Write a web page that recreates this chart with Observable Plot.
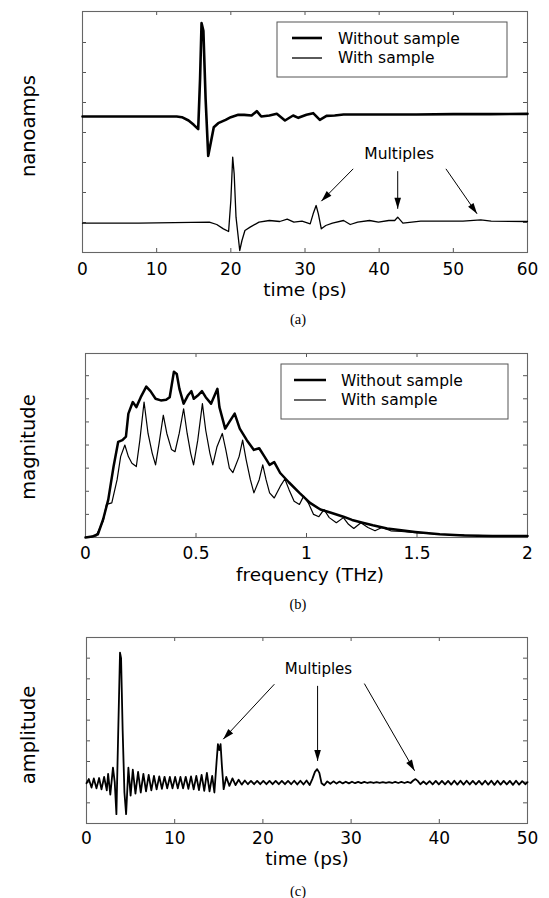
<!DOCTYPE html>
<html><head><meta charset="utf-8">
<script src="https://cdn.jsdelivr.net/npm/d3@7"></script>
<script src="https://cdn.jsdelivr.net/npm/@observablehq/plot@0.6"></script>
<style>
html,body{margin:0;padding:0;background:#fff;}
#page{position:relative;width:549px;height:898px;overflow:hidden;background:#fff;}
.panel{position:absolute;left:0;}
#overlay{position:absolute;left:0;top:0;pointer-events:none;}
</style></head><body><div id="page"></div>
<script>
// ---------------- DATA ----------------
// Panel (a): time-domain pulses (time in ps, arbitrary current units)
const aTimeTicks = [0, 10, 20, 30, 40, 50, 60];
const aLevelTicks = [9, 18, 27, 36, 45, 54, 63];
const aWithout = [[0,40.8],[5,40.8],[10,40.8],[12.7,40.8],[13.4,40.6],[14.3,39.6],[15.0,38.3],[15.6,37.0],[15.85,52],[16.05,68.8],[16.3,66.5],[16.6,46],[16.95,29.0],[17.3,33],[17.7,37.6],[18.3,38.8],[19.3,39.8],[20.0,40.6],[21.0,41.3],[21.8,41.3],[22.8,41.1],[23.5,42.4],[24.1,40.8],[25.2,41.1],[26.2,41.6],[27.3,39.6],[28.4,41.1],[29.1,40.4],[30.2,41.3],[31.1,41.8],[32.0,39.8],[32.9,41.0],[34.0,41.1],[35.2,41.4],[40,41.4],[45,41.4],[50,41.5],[55,41.5],[60,41.6]];
const aWith = [[0,8.8],[7.6,8.8],[17.1,9.1],[18.1,8.4],[19.0,7.1],[19.7,6.3],[20.0,15.6],[20.25,28.6],[20.45,23.6],[20.7,10.6],[21.2,0.6],[21.5,3.6],[21.9,6.6],[22.6,7.6],[23.8,9.1],[25.2,9.6],[26.6,9.3],[27.6,10.0],[28.5,9.1],[29.6,9.4],[30.7,8.6],[31.1,11.6],[31.5,14.1],[31.8,11.6],[32.2,7.1],[32.8,8.1],[33.7,8.8],[35.2,9.6],[36.1,8.4],[37.1,9.1],[38.7,9.6],[39.9,9.1],[41.3,9.6],[42.1,9.6],[42.5,10.6],[43.2,8.8],[45.6,9.4],[48.5,9.4],[51.3,9.4],[53.7,9.8],[55.1,9.4],[60,9.3]];
const aNote = {t: 42.7, v: 29.6, label: "Multiples"};
const aArrows = [{x1:36.5,y1:25.1,x2:32.2,y2:15.4},{x1:42.5,y1:24.4,x2:42.5,y2:13.1},{x1:49.0,y1:25.1,x2:53.2,y2:11.6}];

// Panel (b): spectra (frequency in THz, arbitrary magnitude)
const bFreqTicks = [0, 0.5, 1, 1.5, 2];
const bLevelTicks = [10, 20, 30, 40, 50, 60, 70];
const bWithout = [[0,0],[0.03,0.4],[0.056,1.4],[0.08,7.9],[0.103,16.4],[0.127,30.7],[0.148,41.4],[0.167,42.1],[0.183,43.6],[0.194,53.6],[0.214,58.6],[0.23,56.4],[0.25,60.7],[0.275,65.3],[0.294,63.3],[0.317,60.0],[0.341,59.3],[0.365,59.6],[0.381,60.7],[0.4,71.7],[0.413,70.7],[0.425,64.3],[0.444,57.9],[0.463,61.4],[0.479,63.3],[0.49,60.0],[0.508,61.4],[0.527,63.3],[0.544,60.7],[0.568,57.9],[0.597,64.3],[0.606,56.4],[0.632,47.1],[0.651,50.0],[0.675,53.6],[0.698,47.1],[0.73,42.1],[0.762,37.9],[0.786,38.6],[0.81,35.0],[0.833,31.4],[0.854,32.6],[0.881,27.9],[0.92,23.9],[0.968,19.3],[1.016,15.0],[1.063,12.1],[1.111,10.7],[1.167,9.0],[1.206,7.6],[1.254,6.4],[1.3,5.3],[1.365,3.9],[1.429,3.1],[1.492,2.4],[1.603,1.4],[1.714,0.9],[1.841,0.6],[2.0,0.7]];
const bWith = [[0,0],[0.048,0.7],[0.08,7.1],[0.095,14.3],[0.119,15.0],[0.143,25.0],[0.159,35.0],[0.178,40.0],[0.194,35.0],[0.21,32.1],[0.23,30.7],[0.246,42.1],[0.265,58.6],[0.283,45.0],[0.302,36.4],[0.317,31.4],[0.333,40.7],[0.352,52.9],[0.368,45.0],[0.389,38.1],[0.405,37.1],[0.424,45.0],[0.444,55.7],[0.46,45.0],[0.476,36.4],[0.489,31.4],[0.508,42.1],[0.529,57.9],[0.544,46.4],[0.563,36.4],[0.576,31.4],[0.595,39.3],[0.619,45.0],[0.635,37.9],[0.651,30.0],[0.667,28.1],[0.695,35.0],[0.711,42.1],[0.727,33.6],[0.746,25.0],[0.762,19.3],[0.786,25.0],[0.802,31.4],[0.817,25.0],[0.833,19.3],[0.854,17.1],[0.881,22.1],[0.902,25.3],[0.921,20.7],[0.944,15.7],[0.968,14.3],[0.987,17.9],[1.008,15.0],[1.032,10.0],[1.056,9.0],[1.079,12.1],[1.103,8.6],[1.135,6.4],[1.167,8.6],[1.19,5.7],[1.214,3.9],[1.246,6.4],[1.278,4.3],[1.31,2.9],[1.341,4.3],[1.381,2.9],[1.429,2.6],[1.49,2.1],[1.6,1.4],[1.71,1.0],[1.84,0.7],[2.0,0.7]];

// Panel (c): deconvolved response (time in ps, arbitrary amplitude)
const cTimeTicks = [0, 10, 20, 30, 40, 50];
const cLevelTicks = [10, 20, 30, 40, 50, 60, 70, 80];
const cAmp = [[0,19.5],[0.26,21.5],[0.57,17.4],[0.83,21.8],[1.13,17.0],[1.43,22],[1.7,16.5],[2.0,22.5],[2.3,16],[2.45,24],[2.7,14],[3.0,27],[3.2,20],[3.39,4.5],[3.6,45],[3.8,82.7],[3.92,80],[4.1,45],[4.3,15],[4.49,4.5],[4.75,27],[5.0,13.5],[5.25,26],[5.55,14.5],[5.85,25],[6.15,15],[6.45,24],[6.75,15.5],[7.05,23.5],[7.35,16],[7.65,23],[7.95,16.5],[8.25,22.8],[8.55,16.8],[8.85,22.6],[9.15,17],[9.45,22.5],[9.75,17],[10.05,22.5],[10.35,17],[10.65,22.5],[10.95,17],[11.25,22.6],[11.55,16.8],[11.85,22.8],[12.15,16.5],[12.45,23],[12.75,16.2],[13.05,23.5],[13.35,15.8],[13.65,24.5],[13.95,15.5],[14.25,23],[14.5,15],[14.75,30],[14.9,38.4],[15.05,35.5],[15.2,38.4],[15.35,28],[15.55,16.6],[15.85,22.5],[16.2,18.2],[16.55,21.8],[16.9,18.6],[17.25,21.2],[17.6,18.8],[17.95,20.8],[18.3,19.0],[18.65,20.6],[19.0,19.0],[19.35,20.6],[19.7,19.0],[20.05,20.6],[20.4,19.0],[20.75,20.6],[21.1,19.0],[21.45,20.6],[21.8,19.0],[22.15,20.6],[22.5,19.0],[22.85,20.6],[23.2,19.0],[23.55,20.7],[23.9,18.9],[24.25,20.7],[24.6,18.9],[24.95,20.8],[25.3,18.6],[25.6,21.5],[25.9,25],[26.15,26.3],[26.4,24.5],[26.65,19.5],[26.95,18.5],[27.3,20.4],[27.65,19.2],[28.0,20.4],[28.35,19.3],[28.7,20.3],[29.05,19.4],[29.4,20.2],[29.75,19.4],[30.1,20.2],[30.45,19.5],[30.8,20.1],[31.15,19.5],[31.5,20.1],[31.85,19.6],[32.2,20.0],[32.55,19.6],[32.9,20.0],[33.25,19.7],[33.6,20.0],[33.95,19.7],[34.3,20.0],[34.65,19.6],[35.0,20.1],[35.35,19.6],[35.7,20.1],[36.05,19.6],[36.4,20.1],[36.75,19.6],[37.05,20.8],[37.3,21.5],[37.55,20.6],[37.85,19.0],[38.2,20.3],[38.55,19.0],[38.9,20.5],[39.25,18.9],[39.6,20.6],[39.95,18.9],[40.3,20.6],[40.65,18.9],[41.0,20.6],[41.35,18.8],[41.7,20.7],[42.05,18.8],[42.4,20.7],[42.75,18.8],[43.1,20.7],[43.45,18.9],[43.8,20.6],[44.15,18.9],[44.5,20.6],[44.85,18.8],[45.2,20.7],[45.55,18.8],[45.9,20.7],[46.25,18.7],[46.6,20.7],[46.95,18.8],[47.3,20.6],[47.65,18.9],[48.0,20.6],[48.35,18.7],[48.7,20.7],[49.05,18.8],[49.4,20.5],[49.75,19.0],[50,20]];
const cNote = {t: 26.3, v: 74.7, label: "Multiples"};
const cArrows = [{x1:21.3,y1:67.4,x2:15.5,y2:40.8},{x1:26.2,y1:66.6,x2:26.2,y2:30.3},{x1:31.5,y1:67.7,x2:37.2,y2:25.5}];

// Text
const legendLabels = ["Without sample", "With sample"];
const yTitles = ["nanoamps", "magnitude", "amplitude"];
const xTitles = ["time (ps)", "frequency (THz)", "time (ps)"];
const captions = ["(a)", "(b)", "(c)"];

// ---------------- LAYOUT ----------------
const W = 549, H = 898;
const FONT = "'DejaVu Sans', 'Liberation Sans', Arial, sans-serif";
const page = document.getElementById("page");

const arrowHead = {
  draw(ctx) { const L = 11, w = 3.3; ctx.moveTo(0, 0); ctx.lineTo(-w, L); ctx.lineTo(w, L); ctx.closePath(); }
};

function makePanel(cfg) {
  const {top, svgH, fl, fr, ft, fb, xDom, yDom, xTicks, yTicks, lines, note, arrows, pad, noteSize} = cfg;
  const fw = fr - fl, fh = fb - ft;
  const kx = fw / (xDom[1] - xDom[0]), ky = fh / (yDom[1] - yDom[0]);
  const tl = 4, dyT = tl / ky, dxT = tl / kx;
  const innerX = xTicks.filter(v => v > xDom[0] && v < xDom[1]);
  const marks = [
    Plot.ruleX(innerX, {x: d => d, y1: yDom[0], y2: yDom[0] + dyT, stroke: "#555", strokeWidth: 1}),
    Plot.ruleX(innerX, {x: d => d, y1: yDom[1], y2: yDom[1] - dyT, stroke: "#555", strokeWidth: 1}),
    Plot.ruleY(yTicks, {y: d => d, x1: xDom[0], x2: xDom[0] + dxT, stroke: "#555", strokeWidth: 1}),
    Plot.ruleY(yTicks, {y: d => d, x1: xDom[1], x2: xDom[1] - dxT, stroke: "#555", strokeWidth: 1}),
    Plot.frame({stroke: "#666", strokeWidth: 1.1}),
    ...lines.map(s => Plot.line(s.data, {x: d => d[0], y: d => d[1], stroke: "#000", strokeWidth: s.w, strokeLinejoin: "round"}))
  ];
  if (note) marks.push(Plot.text([note], {x: "t", y: "v", text: "label", fontSize: noteSize, fill: "#000"}));
  if (arrows) {
    marks.push(Plot.link(arrows, {x1: "x1", y1: "y1", x2: "x2", y2: "y2", stroke: "#000", strokeWidth: 1}));
    marks.push(Plot.dot(arrows, {x: "x2", y: "y2", symbol: arrowHead, r: 5,
      rotate: d => Math.atan2((d.x2 - d.x1) * kx, (d.y2 - d.y1) * ky) * 180 / Math.PI,
      fill: "#000", stroke: "none"}));
  }
  const svg = Plot.plot({
    width: W, height: svgH,
    marginLeft: fl, marginRight: W - fr, marginTop: ft - top, marginBottom: top + svgH - fb,
    x: {domain: xDom, ticks: xTicks, tickSize: 0, tickPadding: pad, label: null, tickFormat: d => String(d)},
    y: {domain: yDom, axis: null},
    style: {fontFamily: FONT, fontSize: "17px", background: "transparent", color: "#000", overflow: "visible"},
    marks
  });
  const div = document.createElement("div");
  div.className = "panel";
  div.style.top = top + "px";
  div.appendChild(svg);
  page.appendChild(div);
}

makePanel({top: 0, svgH: 300, fl: 82, fr: 527, ft: 11, fb: 252, xDom: [0, 60], yDom: [0, 72.3],
  xTicks: aTimeTicks, yTicks: aLevelTicks, pad: 10, noteSize: 15.5,
  lines: [{data: aWithout, w: 2.6}, {data: aWith, w: 1.3}], note: aNote, arrows: aArrows});
makePanel({top: 330, svgH: 240, fl: 85, fr: 527, ft: 353, fb: 537, xDom: [0, 2], yDom: [0, 79.6],
  xTicks: bFreqTicks, yTicks: bLevelTicks, pad: 9,
  lines: [{data: bWithout, w: 2.5}, {data: bWith, w: 1.2}]});
makePanel({top: 610, svgH: 260, fl: 86, fr: 527, ft: 637, fb: 823, xDom: [0, 50], yDom: [0, 90],
  xTicks: cTimeTicks, yTicks: cLevelTicks, pad: 8, noteSize: 15,
  lines: [{data: cAmp, w: 1.8}], note: cNote, arrows: cArrows});

// ---------------- OVERLAY TEXT / LEGENDS ----------------
const ov = d3.select(page).append("svg").attr("id", "overlay").attr("width", W).attr("height", H)
  .style("font-family", FONT);

const yTitlePos = [{x: 35, y: 126}, {x: 35, y: 447}, {x: 35, y: 735}];
yTitles.forEach((t, i) => {
  ov.append("text").attr("transform", `translate(${yTitlePos[i].x},${yTitlePos[i].y}) rotate(-90)`)
    .attr("text-anchor", "middle").attr("font-size", 19.5).attr("fill", "#000").text(t);
});
const xTitlePos = [{x: 305, y: 296}, {x: 310, y: 581}, {x: 307, y: 865}];
xTitles.forEach((t, i) => {
  ov.append("text").attr("x", xTitlePos[i].x).attr("y", xTitlePos[i].y).attr("text-anchor", "middle")
    .attr("font-size", 18.5).attr("fill", "#000").text(t);
});
const capPos = [{x: 298, y: 324}, {x: 298, y: 609}, {x: 298, y: 896}];
captions.forEach((t, i) => {
  ov.append("text").attr("x", capPos[i].x).attr("y", capPos[i].y).attr("text-anchor", "middle")
    .attr("font-family", "'Liberation Serif', 'Times New Roman', serif").attr("font-size", 14.5).attr("fill", "#000").text(t);
});

const legends = [
  {x: 277, y: 22, w: 230, h: 55, rows: [{ly: 38, sw: 2.6, tb: 43.5}, {ly: 58, sw: 1.3, tb: 63}], lx1: 292, lx2: 322, tx: 338},
  {x: 281, y: 364, w: 227, h: 55, rows: [{ly: 380, sw: 2.5, tb: 385.5}, {ly: 400, sw: 1.2, tb: 405}], lx1: 294, lx2: 326, tx: 341}
];
legends.forEach(L => {
  ov.append("rect").attr("x", L.x).attr("y", L.y).attr("width", L.w).attr("height", L.h)
    .attr("fill", "#fff").attr("stroke", "#555").attr("stroke-width", 1);
  L.rows.forEach((r, i) => {
    ov.append("line").attr("x1", L.lx1).attr("x2", L.lx2).attr("y1", r.ly).attr("y2", r.ly)
      .attr("stroke", "#000").attr("stroke-width", r.sw);
    ov.append("text").attr("x", L.tx).attr("y", r.tb).attr("font-size", 15.5).attr("fill", "#000").text(legendLabels[i]);
  });
});
</script></body></html>
